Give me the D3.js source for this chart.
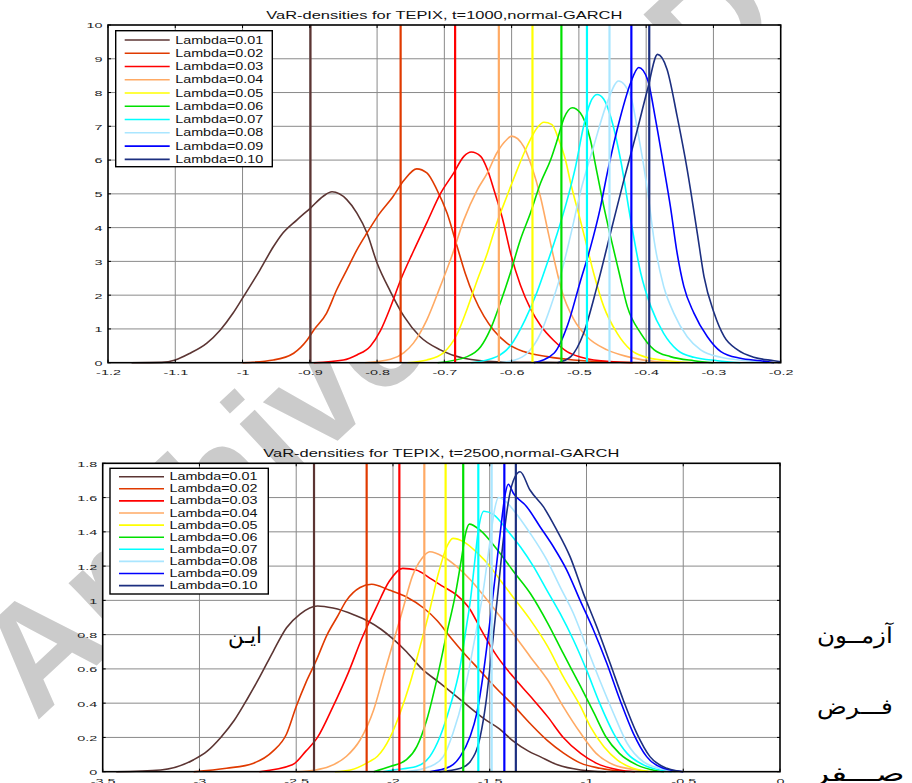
<!DOCTYPE html>
<html>
<head>
<meta charset="utf-8">
<script src="https://cdn.jsdelivr.net/npm/d3@7"></script>
<style>
  body { margin: 0; background: #fff; }
  text { font-family: Arial, "Liberation Sans", sans-serif; }
</style>
</head>
<body>
<svg id="chart" width="912" height="783"></svg>
<script>
// legend labels and colours, one per lambda
const lambdas = ["Lambda=0.01", "Lambda=0.02", "Lambda=0.03", "Lambda=0.04", "Lambda=0.05",
                 "Lambda=0.06", "Lambda=0.07", "Lambda=0.08", "Lambda=0.09", "Lambda=0.10"];
const colors = ["#5c3533", "#e03a00", "#ff0000", "#ffaa64", "#ffff00",
                "#00e000", "#00ffff", "#aae6ff", "#0000ff", "#1c2f80"];

// t=1000 panel
const topVaR = [-0.899, -0.765, -0.684, -0.619, -0.569, -0.526, -0.488, -0.4545, -0.422, -0.3954];
const top01 = [[-1.165,0],[-1.12,0.01],[-1.1,0.08],[-1.078,0.28],[-1.053,0.58],[-1.033,0.97],[-1.014,1.47],[-1.0,1.91],[-0.974,2.75],[-0.954,3.44],[-0.942,3.79],[-0.919,4.23],[-0.899,4.58],[-0.880,4.93],[-0.867,5.06],[-0.845,4.83],[-0.830,4.43],[-0.815,3.84],[-0.800,2.95],[-0.780,2.1],[-0.760,1.37],[-0.736,0.77],[-0.706,0.38],[-0.671,0.13],[-0.622,0.03],[-0.55,0.01],[-0.5,0]];
const top02 = [[-1.0,0],[-0.954,0.08],[-0.924,0.28],[-0.904,0.67],[-0.894,0.97],[-0.875,1.47],[-0.860,2.16],[-0.845,2.75],[-0.830,3.34],[-0.815,3.84],[-0.797,4.4],[-0.777,4.9],[-0.760,5.4],[-0.741,5.74],[-0.726,5.62],[-0.711,5.12],[-0.696,4.43],[-0.681,3.44],[-0.669,2.65],[-0.656,1.96],[-0.641,1.37],[-0.627,0.97],[-0.607,0.58],[-0.582,0.33],[-0.547,0.18],[-0.508,0.08],[-0.45,0.02],[-0.4,0]];
const top03 = [[-0.894,0],[-0.850,0.08],[-0.830,0.23],[-0.810,0.49],[-0.795,0.95],[-0.780,1.65],[-0.765,2.45],[-0.746,3.3],[-0.726,4.15],[-0.706,5.0],[-0.686,5.62],[-0.671,6.11],[-0.660,6.24],[-0.646,6.11],[-0.636,5.72],[-0.626,5.1],[-0.614,4.3],[-0.601,3.2],[-0.587,2.3],[-0.572,1.6],[-0.557,1.1],[-0.537,0.65],[-0.517,0.32],[-0.498,0.17],[-0.478,0.08],[-0.42,0]];
const top04 = [[-0.818,0],[-0.780,0.1],[-0.760,0.3],[-0.746,0.58],[-0.726,1.27],[-0.706,2.26],[-0.689,3.15],[-0.671,4.23],[-0.651,5.12],[-0.636,5.62],[-0.622,6.21],[-0.607,6.61],[-0.600,6.71],[-0.582,6.4],[-0.570,5.8],[-0.557,4.9],[-0.545,3.8],[-0.535,2.9],[-0.525,2.1],[-0.508,1.3],[-0.488,0.77],[-0.458,0.38],[-0.428,0.18],[-0.384,0.03],[-0.35,0]];
const top05 = [[-0.755,0],[-0.726,0.08],[-0.701,0.3],[-0.681,0.85],[-0.666,1.6],[-0.651,2.45],[-0.636,3.25],[-0.622,4.14],[-0.607,4.93],[-0.594,5.6],[-0.577,6.41],[-0.562,6.96],[-0.552,7.12],[-0.540,7.05],[-0.530,6.61],[-0.520,6.01],[-0.512,5.3],[-0.498,4.23],[-0.488,3.44],[-0.478,2.65],[-0.463,1.66],[-0.443,0.87],[-0.423,0.38],[-0.403,0.18],[-0.369,0.06],[-0.33,0]];
const top06 = [[-0.71,0],[-0.666,0.18],[-0.646,0.47],[-0.632,0.97],[-0.617,1.76],[-0.602,2.65],[-0.587,3.64],[-0.572,4.43],[-0.557,5.32],[-0.542,6.01],[-0.532,6.61],[-0.522,7.25],[-0.510,7.55],[-0.498,7.40],[-0.483,6.61],[-0.473,5.62],[-0.463,4.63],[-0.453,3.74],[-0.440,2.65],[-0.428,1.66],[-0.408,0.87],[-0.388,0.38],[-0.364,0.18],[-0.329,0.06],[-0.3,0]];
const top07 = [[-0.66,0],[-0.622,0.18],[-0.602,0.5],[-0.58,1.27],[-0.562,2.1],[-0.547,2.95],[-0.532,3.84],[-0.517,4.85],[-0.505,5.8],[-0.493,7.0],[-0.483,7.7],[-0.473,7.94],[-0.463,7.8],[-0.453,7.3],[-0.438,6.01],[-0.423,4.23],[-0.408,2.65],[-0.393,1.66],[-0.374,0.87],[-0.354,0.38],[-0.329,0.16],[-0.294,0.06],[-0.26,0]];
const top08 = [[-0.62,0],[-0.595,0.08],[-0.577,0.28],[-0.557,0.87],[-0.542,1.66],[-0.527,2.6],[-0.512,3.8],[-0.498,5.03],[-0.478,6.41],[-0.458,7.70],[-0.441,8.34],[-0.423,7.89],[-0.413,6.91],[-0.398,5.1],[-0.388,3.6],[-0.374,2.26],[-0.359,1.47],[-0.339,0.77],[-0.319,0.38],[-0.289,0.16],[-0.250,0.06],[-0.22,0]];
const top09 = [[-0.567,0],[-0.537,0.28],[-0.517,1.1],[-0.498,2.4],[-0.483,3.4],[-0.468,4.6],[-0.458,5.6],[-0.438,7.3],[-0.423,8.29],[-0.411,8.74],[-0.398,8.39],[-0.386,7.20],[-0.374,5.82],[-0.364,4.63],[-0.354,3.25],[-0.344,2.26],[-0.329,1.47],[-0.309,0.77],[-0.289,0.33],[-0.260,0.13],[-0.230,0.06],[-0.21,0]];
const top10 = [[-0.532,0],[-0.512,0.18],[-0.493,0.87],[-0.473,2.26],[-0.453,3.84],[-0.433,5.42],[-0.413,6.91],[-0.398,8.09],[-0.383,9.13],[-0.369,8.69],[-0.354,7.30],[-0.339,5.72],[-0.324,3.84],[-0.314,2.55],[-0.299,1.47],[-0.284,0.77],[-0.264,0.38],[-0.240,0.16],[-0.210,0.06],[-0.2,0.03]];
const topXTicks = [-1.2, -1.1, -1, -0.9, -0.8, -0.7, -0.6, -0.5, -0.4, -0.3, -0.2];
const topXLabels = ["-1.2", "-1.1", "-1", "-0.9", "-0.8", "-0.7", "-0.6", "-0.5", "-0.4", "-0.3", "-0.2"];
const topYTicks = [0, 1, 2, 3, 4, 5, 6, 7, 8, 9, 10];
const topYLabels = ["0", "1", "2", "3", "4", "5", "6", "7", "8", "9", "10"];

// t=2500 panel
const botVaR = [-2.408, -2.136, -1.967, -1.838, -1.728, -1.637, -1.559, -1.490, -1.4245, -1.365];
const bot01 = [[-3.43,0],[-3.2,0.01],[-3.03,0.07],[-2.96,0.12],[-2.89,0.2],[-2.82,0.3],[-2.75,0.43],[-2.69,0.55],[-2.62,0.7],[-2.55,0.84],[-2.48,0.92],[-2.39,0.967],[-2.31,0.955],[-2.2,0.915],[-2.13,0.88],[-2.06,0.83],[-2.0,0.775],[-1.93,0.7],[-1.85,0.6],[-1.76,0.52],[-1.64,0.41],[-1.53,0.31],[-1.45,0.25],[-1.38,0.18],[-1.3,0.12],[-1.24,0.088],[-1.15,0.04],[-1.03,0.01],[-0.9,0]];
const bot02 = [[-3.03,0],[-2.86,0.02],[-2.72,0.05],[-2.62,0.12],[-2.55,0.22],[-2.5,0.38],[-2.45,0.52],[-2.4,0.64],[-2.34,0.8],[-2.29,0.9],[-2.24,1.0],[-2.17,1.075],[-2.11,1.094],[-2.02,1.06],[-1.93,1.02],[-1.84,0.954],[-1.77,0.88],[-1.7,0.78],[-1.64,0.7],[-1.55,0.59],[-1.46,0.48],[-1.38,0.39],[-1.29,0.28],[-1.2,0.18],[-1.12,0.11],[-1.03,0.05],[-0.93,0.02],[-0.8,0]];
const bot03 = [[-2.69,0],[-2.52,0.04],[-2.45,0.12],[-2.39,0.2],[-2.31,0.38],[-2.23,0.58],[-2.16,0.78],[-2.09,0.95],[-2.02,1.11],[-1.95,1.187],[-1.88,1.177],[-1.81,1.13],[-1.74,1.08],[-1.67,1.03],[-1.6,0.944],[-1.55,0.84],[-1.46,0.67],[-1.38,0.555],[-1.29,0.44],[-1.2,0.32],[-1.12,0.2],[-1.03,0.107],[-0.95,0.05],[-0.83,0.01],[-0.75,0]];
const bot04 = [[-2.5,0],[-2.4,0.01],[-2.33,0.03],[-2.24,0.09],[-2.17,0.185],[-2.1,0.36],[-2.05,0.555],[-2.0,0.75],[-1.95,0.944],[-1.9,1.14],[-1.85,1.246],[-1.81,1.284],[-1.74,1.255],[-1.67,1.197],[-1.6,1.12],[-1.54,1.04],[-1.46,0.925],[-1.38,0.808],[-1.29,0.67],[-1.2,0.535],[-1.12,0.38],[-1.03,0.224],[-0.95,0.107],[-0.86,0.04],[-0.74,0.01],[-0.68,0]];
const bot05 = [[-2.3,0],[-2.22,0.01],[-2.12,0.06],[-2.08,0.09],[-2.015,0.2],[-1.964,0.34],[-1.912,0.516],[-1.86,0.73],[-1.81,0.944],[-1.765,1.158],[-1.722,1.313],[-1.69,1.362],[-1.636,1.343],[-1.567,1.28],[-1.5,1.2],[-1.46,1.14],[-1.38,1.02],[-1.29,0.886],[-1.2,0.73],[-1.12,0.555],[-1.03,0.38],[-0.98,0.263],[-0.91,0.146],[-0.84,0.068],[-0.76,0.02],[-0.66,0]];
const bot06 = [[-2.1,0],[-2.015,0.03],[-1.93,0.07],[-1.877,0.146],[-1.826,0.3],[-1.774,0.535],[-1.722,0.808],[-1.68,1.02],[-1.645,1.25],[-1.625,1.39],[-1.605,1.445],[-1.55,1.41],[-1.464,1.3],[-1.378,1.17],[-1.29,1.04],[-1.2,0.866],[-1.12,0.69],[-1.03,0.496],[-0.96,0.34],[-0.9,0.204],[-0.83,0.107],[-0.74,0.04],[-0.64,0.006],[-0.6,0]];
const bot07 = [[-2.05,0],[-2.0,0.01],[-1.88,0.03],[-1.81,0.088],[-1.757,0.204],[-1.705,0.38],[-1.653,0.613],[-1.62,0.85],[-1.6,1.0],[-1.58,1.2],[-1.56,1.4],[-1.53,1.52],[-1.48,1.5],[-1.41,1.41],[-1.34,1.31],[-1.275,1.2],[-1.205,1.06],[-1.137,0.925],[-1.068,0.77],[-1.0,0.594],[-0.932,0.4],[-0.86,0.224],[-0.79,0.107],[-0.706,0.04],[-0.6,0.006],[-0.56,0]];
const bot08 = [[-1.93,0],[-1.81,0.03],[-1.74,0.088],[-1.69,0.224],[-1.636,0.438],[-1.585,0.73],[-1.533,1.06],[-1.5,1.333],[-1.475,1.53],[-1.455,1.6],[-1.42,1.58],[-1.378,1.528],[-1.29,1.39],[-1.205,1.236],[-1.137,1.08],[-1.068,0.925],[-1.0,0.73],[-0.932,0.535],[-0.86,0.34],[-0.79,0.166],[-0.706,0.058],[-0.586,0.01],[-0.54,0]];
const bot09 = [[-1.81,0],[-1.705,0.03],[-1.653,0.088],[-1.602,0.204],[-1.567,0.34],[-1.533,0.574],[-1.498,0.886],[-1.464,1.216],[-1.44,1.45],[-1.42,1.62],[-1.404,1.678],[-1.378,1.625],[-1.309,1.547],[-1.24,1.43],[-1.171,1.313],[-1.102,1.177],[-1.033,1.0],[-0.964,0.827],[-0.895,0.633],[-0.827,0.419],[-0.758,0.224],[-0.689,0.088],[-0.603,0.02],[-0.5,0]];
const bot10 = [[-1.76,0],[-1.65,0.02],[-1.6,0.06],[-1.55,0.2],[-1.52,0.4],[-1.49,0.7],[-1.46,1.02],[-1.43,1.35],[-1.40,1.6],[-1.37,1.72],[-1.343,1.751],[-1.292,1.644],[-1.223,1.547],[-1.154,1.411],[-1.085,1.255],[-1.016,1.041],[-0.947,0.846],[-0.878,0.633],[-0.81,0.419],[-0.74,0.224],[-0.672,0.088],[-0.585,0.02],[-0.5,0]];
const botXTicks = [-3.5, -3, -2.5, -2, -1.5, -1, -0.5, 0];
const botXLabels = ["-3.5", "-3", "-2.5", "-2", "-1.5", "-1", "-0.5", "0"];
const botYTicks = [0, 0.2, 0.4, 0.6, 0.8, 1, 1.2, 1.4, 1.6, 1.8];
const botYLabels = ["0", "0.2", "0.4", "0.6", "0.8", "1", "1.2", "1.4", "1.6", "1.8"];

const svg = d3.select("#chart");

// watermark sits behind the (opaque) plot areas
svg.append("text")
  .attr("transform", "translate(36,722) rotate(-43)")
  .attr("font-size", 150)
  .attr("font-weight", "bold")
  .attr("fill", "#cbcbcb")
  .text("Archive of SID");

const labelStretch = 1.8;

function drawPanel(p) {
  const x = d3.scaleLinear().domain(p.xDomain).range([p.left, p.right]);
  const y = d3.scaleLinear().domain(p.yDomain).range([p.bottom, p.top]);
  const g = svg.append("g");

  // white axes background
  g.append("rect")
    .attr("x", p.left).attr("y", p.top)
    .attr("width", p.right - p.left).attr("height", p.bottom - p.top)
    .attr("fill", "#fff");

  // grid
  g.append("g").selectAll("line").data(p.xTicks.slice(1, -1)).join("line")
    .attr("x1", d => x(d)).attr("x2", d => x(d))
    .attr("y1", p.top).attr("y2", p.bottom)
    .attr("stroke", "#8a8a8a").attr("stroke-width", 1);
  g.append("g").selectAll("line").data(p.yTicks.slice(1, -1)).join("line")
    .attr("x1", p.left).attr("x2", p.right)
    .attr("y1", d => y(d)).attr("y2", d => y(d))
    .attr("stroke", "#8a8a8a").attr("stroke-width", 1);

  // curves and VaR lines
  const line = d3.line().x(d => x(d[0])).y(d => y(d[1])).curve(d3.curveMonotoneX);
  p.curves.forEach((c, i) => {
    g.append("path").datum(c)
      .attr("d", line)
      .attr("fill", "none")
      .attr("stroke", colors[i])
      .attr("stroke-width", 1.6);
  });
  p.varLines.forEach((v, i) => {
    g.append("line")
      .attr("x1", x(v)).attr("x2", x(v))
      .attr("y1", y(p.yDomain[0])).attr("y2", y(p.yDomain[1]))
      .attr("stroke", colors[i]).attr("stroke-width", 2.2);
  });

  // inward tick marks on all four sides
  const t = g.append("g").attr("stroke", "#000").attr("stroke-width", 1);
  p.xTicks.forEach(d => {
    t.append("line").attr("x1", x(d)).attr("x2", x(d)).attr("y1", p.bottom).attr("y2", p.bottom - 3);
    t.append("line").attr("x1", x(d)).attr("x2", x(d)).attr("y1", p.top).attr("y2", p.top + 3);
  });
  p.yTicks.forEach(d => {
    t.append("line").attr("y1", y(d)).attr("y2", y(d)).attr("x1", p.left).attr("x2", p.left + 3);
    t.append("line").attr("y1", y(d)).attr("y2", y(d)).attr("x1", p.right).attr("x2", p.right - 3);
  });

  // tick labels through d3 axes
  g.append("g")
    .attr("transform", `translate(0,${p.bottom})`)
    .call(d3.axisBottom(x).tickValues(p.xTicks).tickFormat((d, i) => p.xLabels[i]).tickSize(0))
    .call(a => a.select(".domain").remove())
    .call(a => a.selectAll("text")
      .attr("y", 0).attr("dy", null)
      .attr("transform", `translate(0,12.5) scale(${labelStretch},1)`)
      .attr("font-size", 8).attr("fill", "#222"));
  g.append("g")
    .attr("transform", `translate(${p.left},0)`)
    .call(d3.axisLeft(y).tickValues(p.yTicks).tickFormat((d, i) => p.yLabels[i]).tickSize(0))
    .call(a => a.select(".domain").remove())
    .call(a => a.selectAll("text")
      .attr("x", 0).attr("dy", null).attr("y", 0)
      .attr("transform", `translate(-5.5,2.9) scale(${labelStretch},1)`)
      .attr("font-size", 8).attr("fill", "#222"));

  // box
  g.append("rect")
    .attr("x", p.left).attr("y", p.top)
    .attr("width", p.right - p.left).attr("height", p.bottom - p.top)
    .attr("fill", "none").attr("stroke", "#000").attr("stroke-width", 1.6);

  // title
  g.append("text")
    .attr("x", (p.left + p.right) / 2 - 178).attr("y", p.top - 6)
    .attr("font-size", 11)
    .attr("textLength", 356).attr("lengthAdjust", "spacingAndGlyphs")
    .attr("fill", "#111")
    .text(p.title);

  // legend
  const lg = g.append("g").attr("transform", `translate(${p.legend.x},${p.legend.y})`);
  lg.append("rect")
    .attr("width", p.legend.w).attr("height", p.legend.h)
    .attr("fill", "#fff").attr("stroke", "#000").attr("stroke-width", 1.4);
  lambdas.forEach((name, i) => {
    const ry = p.legend.first + i * p.legend.step;
    lg.append("line")
      .attr("x1", 9).attr("x2", 54).attr("y1", ry).attr("y2", ry)
      .attr("stroke", colors[i]).attr("stroke-width", 1.6);
    lg.append("text")
      .attr("x", 59.5).attr("y", ry + 3.6)
      .attr("font-size", 10)
      .attr("textLength", 88).attr("lengthAdjust", "spacingAndGlyphs")
      .attr("fill", "#111")
      .text(name);
  });
}

drawPanel({
  xDomain: [-1.2, -0.2], yDomain: [0, 10],
  left: 108, right: 780.7, top: 25, bottom: 362.7,
  xTicks: topXTicks, xLabels: topXLabels, yTicks: topYTicks, yLabels: topYLabels,
  curves: [top01, top02, top03, top04, top05, top06, top07, top08, top09, top10],
  varLines: topVaR,
  title: "VaR-densities for TEPIX, t=1000,normal-GARCH",
  legend: { x: 115.7, y: 30.7, w: 156.6, h: 136, first: 9.3, step: 13.26 }
});

drawPanel({
  xDomain: [-3.5, 0], yDomain: [0, 1.8],
  left: 102.7, right: 780, top: 463.3, bottom: 771.7,
  xTicks: botXTicks, xLabels: botXLabels, yTicks: botYTicks, yLabels: botYLabels,
  curves: [bot01, bot02, bot03, bot04, bot05, bot06, bot07, bot08, bot09, bot10],
  varLines: botVaR,
  title: "VaR-densities for TEPIX, t=2500,normal-GARCH",
  legend: { x: 110, y: 468.3, w: 158.3, h: 125.7, first: 8.4, step: 12.1 }
});

// surrounding Persian text of the page (x = right edge of each word)
const pageWords = [
  { text: "آزمــون", x: 893, y: 643, w: 76 },
  { text: "فـــرض", x: 893, y: 714, w: 76 },
  { text: "صـــفر", x: 905, y: 781, w: 92 },
  { text: "ایـن", x: 262, y: 643, w: 34 }
];
svg.append("g").selectAll("text").data(pageWords).join("text")
  .attr("x", d => d.x).attr("y", d => d.y)
  .attr("font-family", "DejaVu Sans")
  .attr("font-size", 22)
  .attr("direction", "rtl")
  .attr("text-anchor", "start")
  .attr("textLength", d => d.w)
  .attr("lengthAdjust", "spacingAndGlyphs")
  .attr("fill", "#000")
  .text(d => d.text);
</script>
</body>
</html>
